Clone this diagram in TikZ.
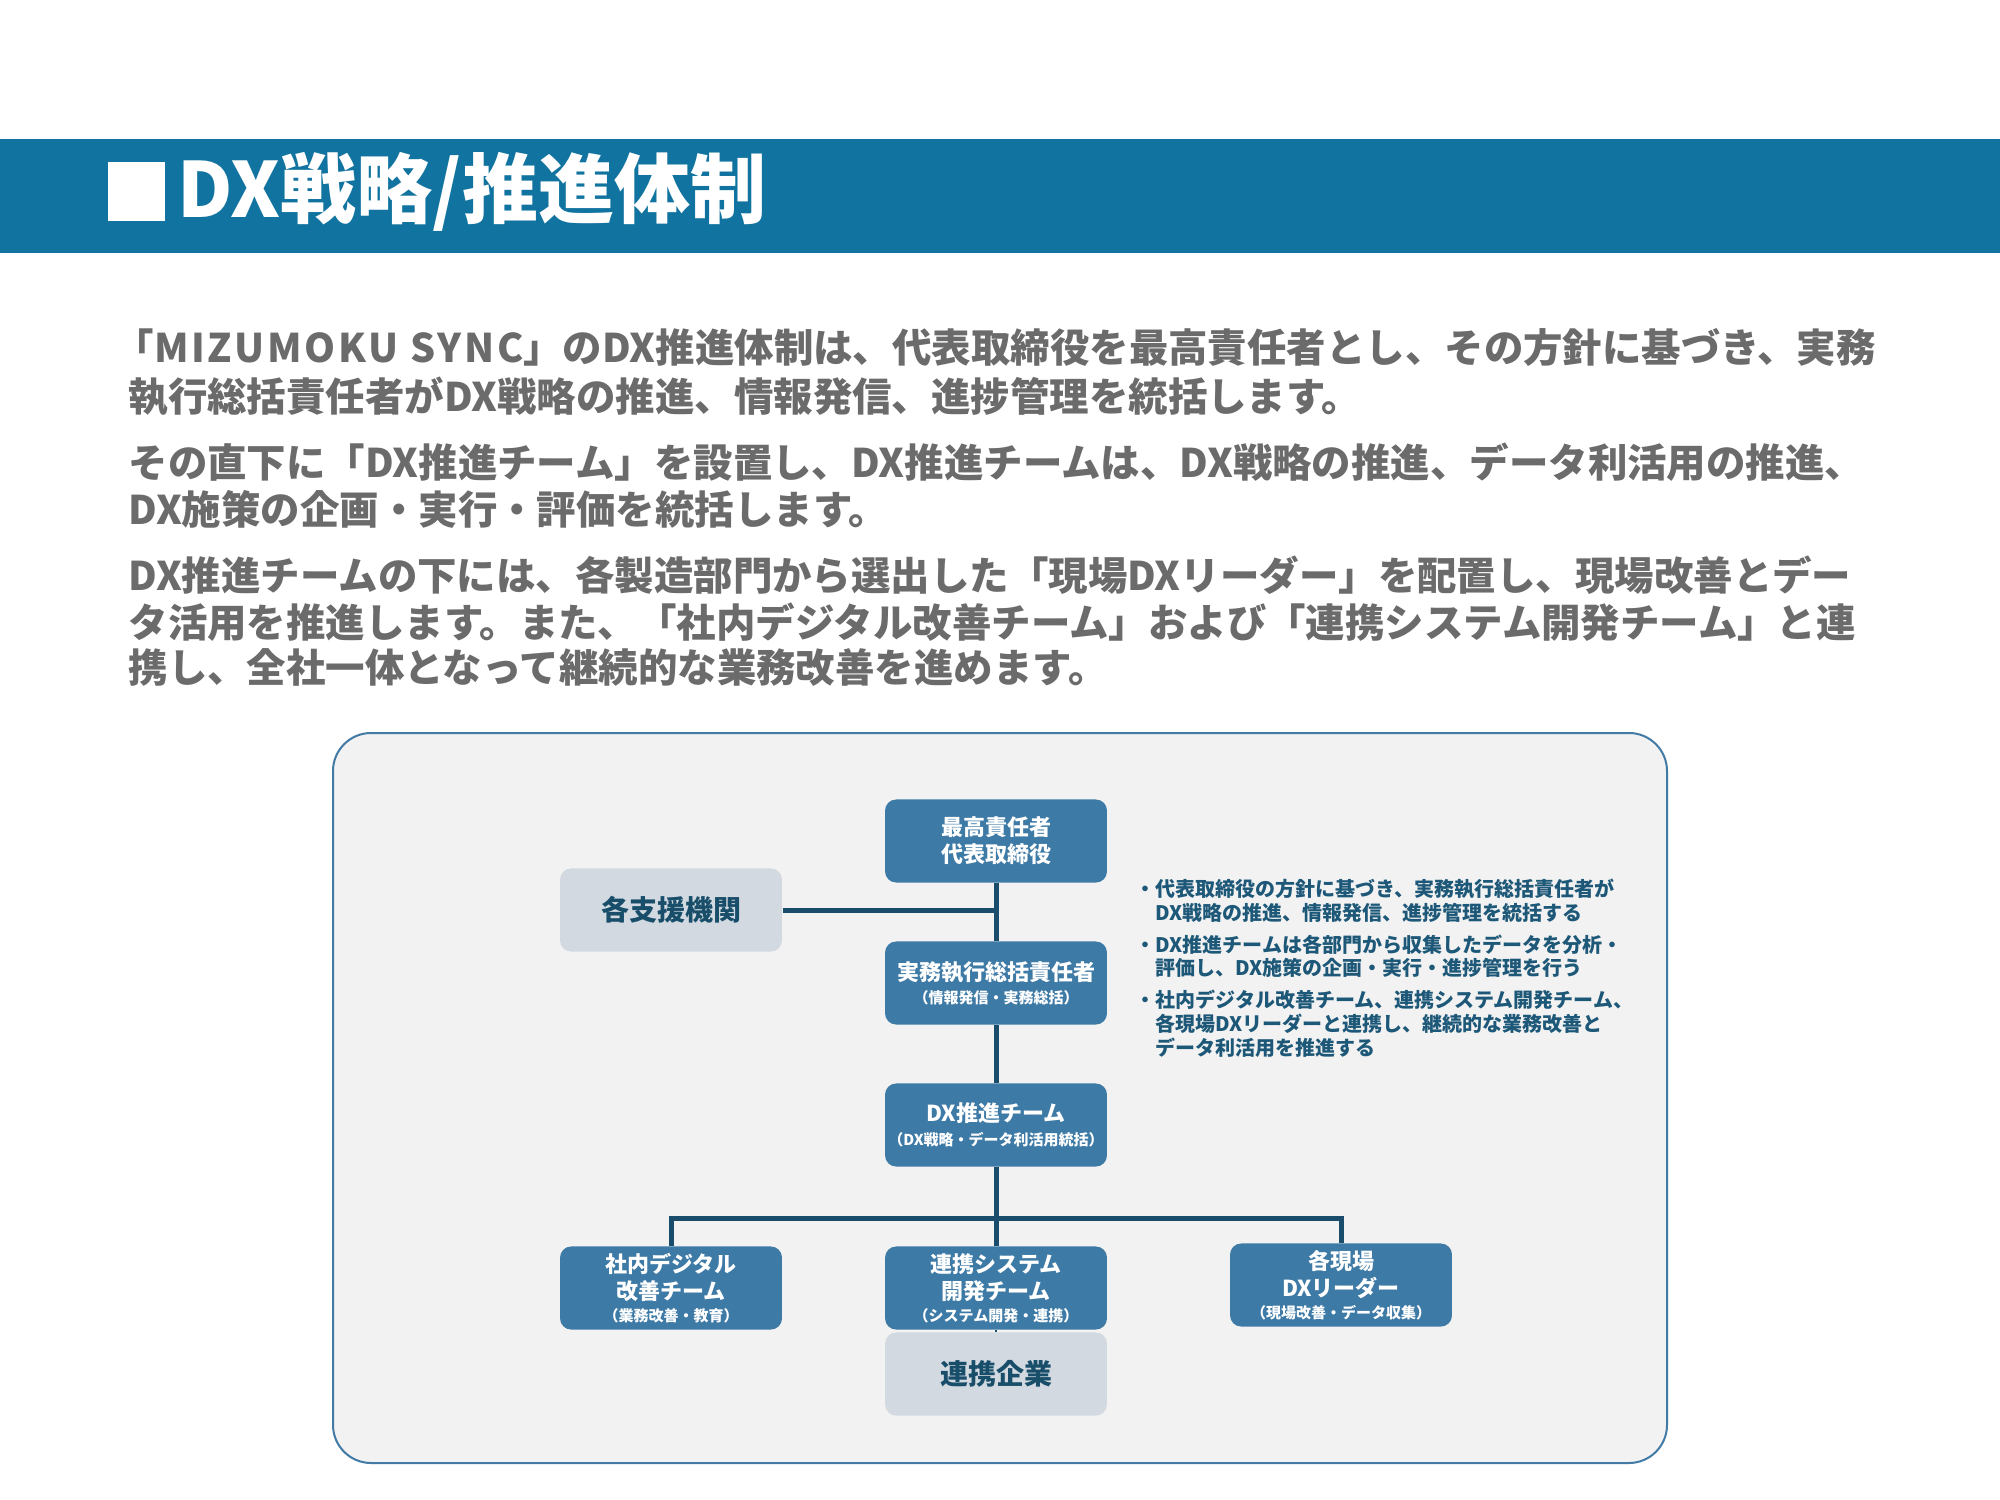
\documentclass[tikz,border=0pt]{standalone}
\usepackage{fontspec}
\setmainfont{Noto Sans CJK JP}
\definecolor{headerblue}{RGB}{17,115,159}
\definecolor{nodeblue}{RGB}{62,122,166}
\definecolor{greyfill}{RGB}{211,217,224}
\definecolor{greytext}{RGB}{24,78,106}
\definecolor{connc}{RGB}{26,77,107}
\definecolor{bodygray}{RGB}{107,107,107}
\definecolor{bultext}{RGB}{30,88,120}
\definecolor{framefill}{RGB}{242,242,242}
\definecolor{framedraw}{RGB}{64,122,165}
\newcommand\smallsub[1]{{\fontsize{5.4}{6}\selectfont #1}}
\newcommand\widelatin[1]{{\addfontfeatures{LetterSpace=7}#1}}
\begin{document}
\begin{tikzpicture}[x=0.36pt,y=-0.36pt,
  bluebox/.style={fill=nodeblue, rounded corners=4pt, minimum width=79.9pt, minimum height=29.9pt, inner sep=0pt, text=white, font=\bfseries\fontsize{7.92}{9.7}\selectfont, align=center},
  greybox/.style={fill=greyfill, rounded corners=4pt, minimum width=79.9pt, minimum height=29.9pt, inner sep=0pt, text=greytext, font=\bfseries\fontsize{10.08}{12}\selectfont},
  conn/.style={draw=connc, line width=1.8pt},
  body/.style={anchor=west, inner sep=0pt, text=bodygray, font=\bfseries\fontsize{14.2}{16}\selectfont},
  bul/.style={anchor=west, inner sep=0pt, text=bultext, font=\bfseries\fontsize{7.2}{8}\selectfont},
]
\useasboundingbox (0,0) rectangle (2000,1500);
\fill[white] (0,0) rectangle (2000,1500);
% header
\fill[headerblue] (0,139) rectangle (2000,253);
\fill[white] (108,162) rectangle (165,221);
\node[anchor=west, inner sep=0pt, text=white, font=\bfseries\fontsize{27.4}{30}\selectfont] (title) at (177,192) {DX戦略/推進体制};
% body text
\node[body] (l1) at (114,348) {「\widelatin{MIZUMOKU SYNC}」のDX推進体制は、代表取締役を最高責任者とし、その方針に基づき、実務};
\node[body] (l2) at (128,397) {執行総括責任者がDX戦略の推進、情報発信、進捗管理を統括します。};
\node[body] (l3) at (128,462) {その直下に「DX推進チーム」を設置し、DX推進チームは、DX戦略の推進、データ利活用の推進、};
\node[body] (l4) at (128,509) {DX施策の企画・実行・評価を統括します。};
\node[body] (l5) at (128,575) {DX推進チームの下には、各製造部門から選出した「現場DXリーダー」を配置し、現場改善とデー};
\node[body] (l6) at (128,622) {タ活用を推進します。また、「社内デジタル改善チーム」および「連携システム開発チーム」と連};
\node[body] (l7) at (128,668) {携し、全社一体となって継続的な業務改善を進めます。};
% frame
\draw[fill=framefill, draw=framedraw, line width=0.72pt, rounded corners=13.7pt] (333,733) rectangle (1667,1463);
% nodes
\node[bluebox] (top) at (996,841) {最高責任者\\代表取締役};
\node[greybox] (support) at (671,910) {各支援機関};
\node[bluebox] (exec) at (996,983) {実務執行総括責任者\\[-1.4pt]\smallsub{（情報発信・実務総括）}};
\node[bluebox] (dxteam) at (996,1125) {DX推進チーム\\[-1.1pt]\smallsub{（DX戦略・データ利活用統括）}};
\node[bluebox] (shanai) at (671,1288) {社内デジタル\\改善チーム\\[-1.8pt]\smallsub{（業務改善・教育）}};
\node[bluebox] (system) at (996,1288) {連携システム\\開発チーム\\[-1.8pt]\smallsub{（システム開発・連携）}};
\node[bluebox] (genba) at (1341,1285) {各現場\\DXリーダー\\[-1.8pt]\smallsub{（現場改善・データ収集）}};
\node[greybox] (partner) at (996,1374) {連携企業};
% connectors
\coordinate (bus) at (996,1218);
\draw[conn] (top.south) -- (exec.north);
\draw[conn] (support.east) -- (support.east -| top.south);
\draw[conn] (exec.south) -- (dxteam.north);
\draw[conn] (dxteam.south) -- (system.north);
\draw[conn] (shanai.north) |- (bus) -| (genba.north);
\draw[conn, line width=1pt] (system.south) -- (partner.north);
% bullets
\node[bul] (b1a) at (1135,889) {・代表取締役の方針に基づき、実務執行総括責任者が};
\node[bul] (b1b) at (1155,913) {DX戦略の推進、情報発信、進捗管理を統括する};
\node[bul] (b2a) at (1135,945) {・DX推進チームは各部門から収集したデータを分析・};
\node[bul] (b2b) at (1155,968) {評価し、DX施策の企画・実行・進捗管理を行う};
\node[bul] (b3a) at (1135,1000) {・社内デジタル改善チーム、連携システム開発チーム、};
\node[bul] (b3b) at (1155,1024) {各現場DXリーダーと連携し、継続的な業務改善と};
\node[bul] (b3c) at (1155,1048) {データ利活用を推進する};
\end{tikzpicture}
\end{document}
